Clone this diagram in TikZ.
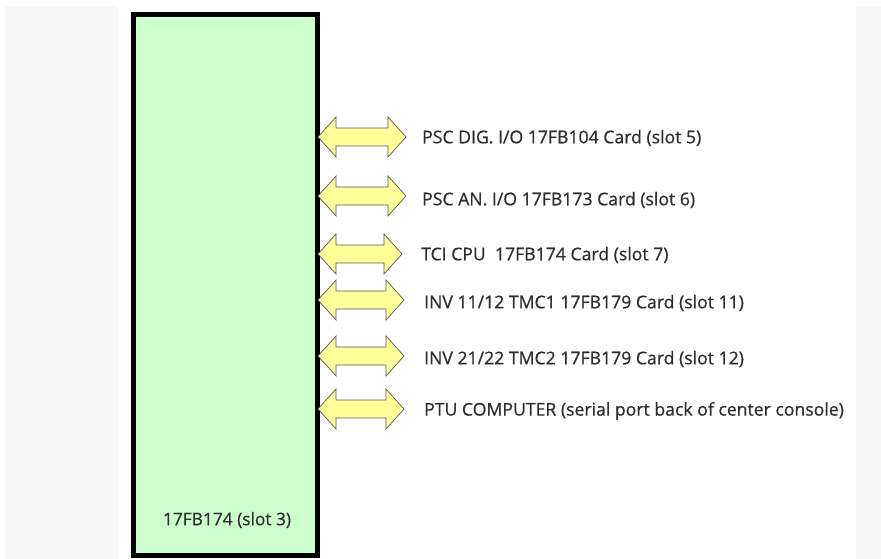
\documentclass[tikz,border=0pt]{standalone}
\usepackage{fontspec}
\setmainfont{Open Sans}[FakeBold=0.6,AutoFakeBold=0.6]
\definecolor{boxgreen}{HTML}{CCFFCC}
\definecolor{arrowyellow}{HTML}{FFFF99}
\definecolor{panelgray}{HTML}{F8F8F8}
\definecolor{txt}{HTML}{2E2E2E}
\begin{document}
\begin{tikzpicture}[x=1bp,y=-1bp,
  lbl/.style={anchor=west, text=txt, font=\fontsize{17.7}{20}\selectfont\bfseries, inner sep=0pt},
  arrowshape/.style={draw=black!65, line width=0.7bp, fill=arrowyellow, line join=miter},
  pics/dblarrow/.style={code={
    \path[arrowshape] (-#1/2,0) -- (-#1/2+18,-20) -- (-#1/2+18,-9) -- (#1/2-18,-9) -- (#1/2-18,-20)
      -- (#1/2,0) -- (#1/2-18,20) -- (#1/2-18,9) -- (-#1/2+18,9) -- (-#1/2+18,20) -- cycle;
  }}]
\useasboundingbox (0,0) rectangle (881,559);
\fill[white] (0,0) rectangle (881,559);
\fill[panelgray] (5,6) rectangle (118,559);
\fill[panelgray] (856,6) rectangle (881,559);
\node[draw=black, line width=4.5bp, fill=boxgreen, minimum width=184bp, minimum height=541bp, inner sep=0pt] (card) at (225.5,285) {};
\node[text=txt, font=\fontsize{17.4}{20}\selectfont\bfseries] (cardlbl) at (227,520) {17FB174 (slot 3)};
\pic at (362,137) {dblarrow=88};
\pic at (362,196) {dblarrow=88};
\pic at (360,254) {dblarrow=84};
\pic at (361,300) {dblarrow=86};
\pic at (361,356) {dblarrow=86};
\pic at (361,409) {dblarrow=86};
\node[lbl] (l1) at (422,138) {PSC DIG. I/O 17FB104 Card (slot 5)};
\node[lbl] (l2) at (422,200) {PSC AN. I/O 17FB173 Card (slot 6)};
\node[lbl] (l3) at (421,255) {TCI CPU\ \ 17FB174 Card (slot 7)};
\node[lbl] (l4) at (424,303) {INV 11/12 TMC1 17FB179 Card (slot 11)};
\node[lbl] (l5) at (424,359) {INV 21/22 TMC2 17FB179 Card (slot 12)};
\node[lbl] (l6) at (424,411) {PTU COMPUTER (serial port back of center console)};
\end{tikzpicture}
\end{document}
